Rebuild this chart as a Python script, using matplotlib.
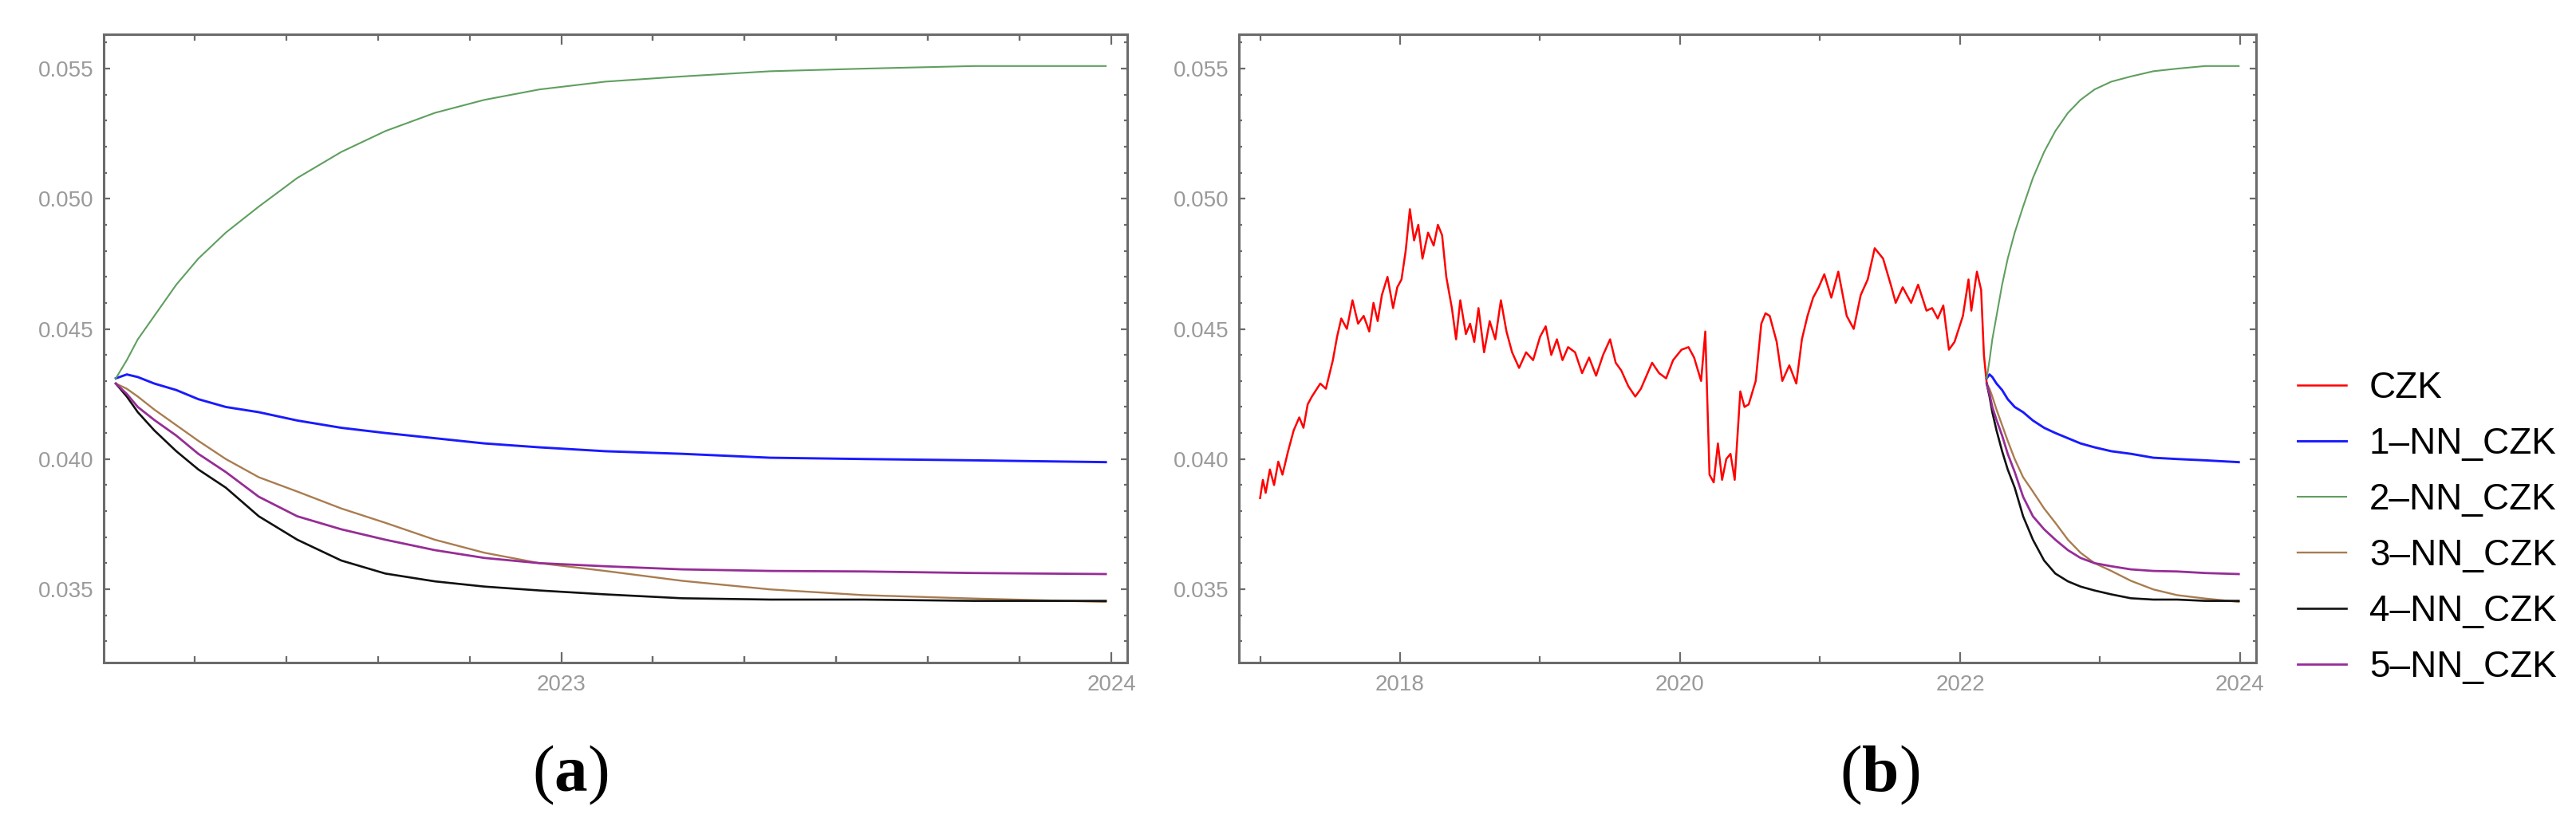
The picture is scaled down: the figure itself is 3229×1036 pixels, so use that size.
import matplotlib
matplotlib.use("Agg")
import matplotlib.pyplot as plt
from matplotlib.ticker import MultipleLocator, FixedLocator

plt.rcParams['font.family'] = ['Liberation Sans', 'DejaVu Sans']
plt.rcParams['mathtext.fontset'] = 'custom'
plt.rcParams['mathtext.rm'] = 'Liberation Serif'
plt.rcParams['mathtext.bf'] = 'Liberation Serif:bold'

czk_t = [2017.00, 2017.02, 2017.04, 2017.07, 2017.10, 2017.13, 2017.16, 2017.20, 2017.24, 2017.28,
         2017.31, 2017.34, 2017.37, 2017.43, 2017.47, 2017.52, 2017.55, 2017.58, 2017.62, 2017.66,
         2017.70, 2017.74, 2017.78, 2017.81, 2017.84, 2017.87, 2017.91, 2017.95, 2017.98, 2018.01,
         2018.04, 2018.07, 2018.10, 2018.13, 2018.16, 2018.20, 2018.24, 2018.27, 2018.30, 2018.33,
         2018.37, 2018.40, 2018.43, 2018.47, 2018.50, 2018.53, 2018.56, 2018.60, 2018.64, 2018.68,
         2018.72, 2018.76, 2018.80, 2018.85, 2018.90, 2018.95, 2019.00, 2019.04, 2019.08, 2019.12,
         2019.16, 2019.20, 2019.25, 2019.30, 2019.35, 2019.40, 2019.45, 2019.50, 2019.54, 2019.58,
         2019.63, 2019.68, 2019.72, 2019.76, 2019.80, 2019.85, 2019.90, 2019.95, 2020.01, 2020.06,
         2020.10, 2020.15, 2020.18, 2020.21, 2020.24, 2020.27, 2020.30, 2020.33, 2020.36, 2020.39,
         2020.43, 2020.46, 2020.49, 2020.54, 2020.58, 2020.61, 2020.64, 2020.69, 2020.73, 2020.78,
         2020.83, 2020.87, 2020.91, 2020.95, 2020.99, 2021.03, 2021.08, 2021.13, 2021.19, 2021.24,
         2021.29, 2021.34, 2021.39, 2021.45, 2021.51, 2021.54, 2021.59, 2021.65, 2021.70, 2021.76,
         2021.80, 2021.84, 2021.88, 2021.92, 2021.96, 2022.02, 2022.06, 2022.08, 2022.12, 2022.15,
         2022.17, 2022.19]
czk = [0.0385, 0.0392, 0.0387, 0.0396, 0.0390, 0.0399, 0.0394, 0.0403, 0.0411, 0.0416,
       0.0412, 0.0421, 0.0424, 0.0429, 0.0427, 0.0438, 0.0447, 0.0454, 0.0450, 0.0461,
       0.0452, 0.0455, 0.0449, 0.0460, 0.0453, 0.0463, 0.0470, 0.0458, 0.0466, 0.0469,
       0.0480, 0.0496, 0.0484, 0.0490, 0.0477, 0.0487, 0.0482, 0.0490, 0.0486, 0.0470,
       0.0458, 0.0446, 0.0461, 0.0448, 0.0452, 0.0445, 0.0458, 0.0441, 0.0453, 0.0446,
       0.0461, 0.0449, 0.0441, 0.0435, 0.0441, 0.0438, 0.0447, 0.0451, 0.0440, 0.0446,
       0.0438, 0.0443, 0.0441, 0.0433, 0.0439, 0.0432, 0.0440, 0.0446, 0.0437, 0.0434,
       0.0428, 0.0424, 0.0427, 0.0432, 0.0437, 0.0433, 0.0431, 0.0438, 0.0442, 0.0443,
       0.0439, 0.0430, 0.0449, 0.0394, 0.0391, 0.0406, 0.0392, 0.0400, 0.0402, 0.0392,
       0.0426, 0.0420, 0.0421, 0.0430, 0.0452, 0.0456, 0.0455, 0.0445, 0.0430, 0.0436,
       0.0429, 0.0446, 0.0455, 0.0462, 0.0466, 0.0471, 0.0462, 0.0472, 0.0455, 0.0450,
       0.0463, 0.0469, 0.0481, 0.0477, 0.0466, 0.0460, 0.0466, 0.0460, 0.0467, 0.0457,
       0.0458, 0.0454, 0.0459, 0.0442, 0.0445, 0.0455, 0.0469, 0.0457, 0.0472, 0.0465,
       0.0440, 0.0429]

# forecasts
fc_t = [2022.19, 2022.21, 2022.23, 2022.26, 2022.30, 2022.34, 2022.39, 2022.45, 2022.52, 2022.60,
        2022.68, 2022.77, 2022.86, 2022.96, 2023.08, 2023.22, 2023.38, 2023.55, 2023.75, 2023.99]
nn1 = [0.0431, 0.04325, 0.04315, 0.0429, 0.04265, 0.0423, 0.0420, 0.0418, 0.04148, 0.0412,
       0.0410, 0.0408, 0.0406, 0.04045, 0.0403, 0.0402, 0.04005, 0.0400, 0.03995, 0.03988]
nn2 = [0.0431, 0.0438, 0.0446, 0.0455, 0.0467, 0.0477, 0.0487, 0.0497, 0.0508, 0.0518,
       0.0526, 0.0533, 0.0538, 0.0542, 0.0545, 0.0547, 0.0549, 0.0550, 0.0551, 0.0551]
nn3 = [0.0429, 0.0427, 0.0424, 0.0419, 0.0413, 0.0407, 0.0400, 0.0393, 0.03875, 0.0381,
       0.03755, 0.0369, 0.0364, 0.0360, 0.0357, 0.03532, 0.03499, 0.03477, 0.03464, 0.03451]
nn4 = [0.0429, 0.0424, 0.0418, 0.0411, 0.0403, 0.0396, 0.0389, 0.0378, 0.0369, 0.0361,
       0.0356, 0.0353, 0.0351, 0.03495, 0.0348, 0.03465, 0.0346, 0.0346, 0.03455, 0.03455]
nn5 = [0.0429, 0.0425, 0.0420, 0.0415, 0.0409, 0.0402, 0.0395, 0.03855, 0.0378, 0.0373,
       0.0369, 0.0365, 0.0362, 0.0360, 0.03588, 0.03576, 0.0357, 0.03568, 0.03562, 0.03558]

names = ['1\u2013NN_CZK', '2\u2013NN_CZK', '3\u2013NN_CZK', '4\u2013NN_CZK', '5\u2013NN_CZK']
colors = ['#1a1aff', '#5f9f5f', '#a97c4f', '#111111', '#962d96']
widths = [2.1, 1.5, 1.7, 1.9, 2.0]
series = [nn1, nn2, nn3, nn4, nn5]

frame_col = '#6b6b6b'
label_col = '#9a9a9a'

fig = plt.figure(figsize=(32.3, 10.36), dpi=100)
W, H = 3230.0, 1036.0
ax1 = fig.add_axes([130 / W, 1 - 831 / H, (1413 - 130) / W, (831 - 43) / H])
ax2 = fig.add_axes([1553 / W, 1 - 831 / H, (2828 - 1553) / W, (831 - 43) / H])

ax2.plot(czk_t, czk, color='#ff0000', lw=1.8, label='CZK')
for s, c, lw, n in zip(series, colors, widths, names):
    ax1.plot(fc_t, s, color=c, lw=lw)
    ax2.plot(fc_t, s, color=c, lw=lw, label=n)

ylo, yhi = 0.03218, 0.05632
ax1.set_xlim(2022.168, 2024.029)
ax2.set_xlim(2016.849, 2024.114)
for ax in (ax1, ax2):
    ax.set_ylim(ylo, yhi)
    ax.yaxis.set_major_locator(MultipleLocator(0.005))
    ax.yaxis.set_minor_locator(MultipleLocator(0.001))
    ax.yaxis.set_major_formatter(plt.FormatStrFormatter('%.3f'))
    for sp in ax.spines.values():
        sp.set_color(frame_col)
        sp.set_linewidth(2.2)
    ax.tick_params(which='both', direction='in', top=True, right=True,
                   color=frame_col, width=1.6, labelcolor=label_col, labelsize=20)
    ax.tick_params(axis='y', which='major', length=6, pad=9)
    ax.tick_params(axis='y', which='minor', length=3)
    ax.tick_params(axis='x', which='major', length=9.5, pad=11)
    ax.tick_params(axis='x', which='minor', length=5.5)

ax1.xaxis.set_major_locator(FixedLocator([2023, 2024]))
ax1.xaxis.set_minor_locator(FixedLocator([2022 + k / 6 for k in range(1, 12)] + [2023 + k / 6 for k in range(1, 6)]))
ax1.set_xticklabels(['2023', '2024'])
ax2.xaxis.set_major_locator(FixedLocator([2018, 2020, 2022, 2024]))
ax2.xaxis.set_minor_locator(FixedLocator([2017, 2019, 2021, 2023]))
ax2.set_xticklabels(['2018', '2020', '2022', '2024'])

fig.legend(*ax2.get_legend_handles_labels(), loc='center left',
           bbox_to_anchor=(2880 / W, 1 - 662 / H), frameon=False, fontsize=33,
           handlelength=1.33, handletextpad=0.63, labelspacing=0.57,
           borderpad=0, borderaxespad=0)

fig.text(715 / W, 1 - 972 / H, r'$(\mathbf{a})$', ha='center', va='center', fontsize=60)
fig.text(2356 / W, 1 - 972 / H, r'$(\mathbf{b})$', ha='center', va='center', fontsize=60)

fig.savefig('out.png', dpi=100)
